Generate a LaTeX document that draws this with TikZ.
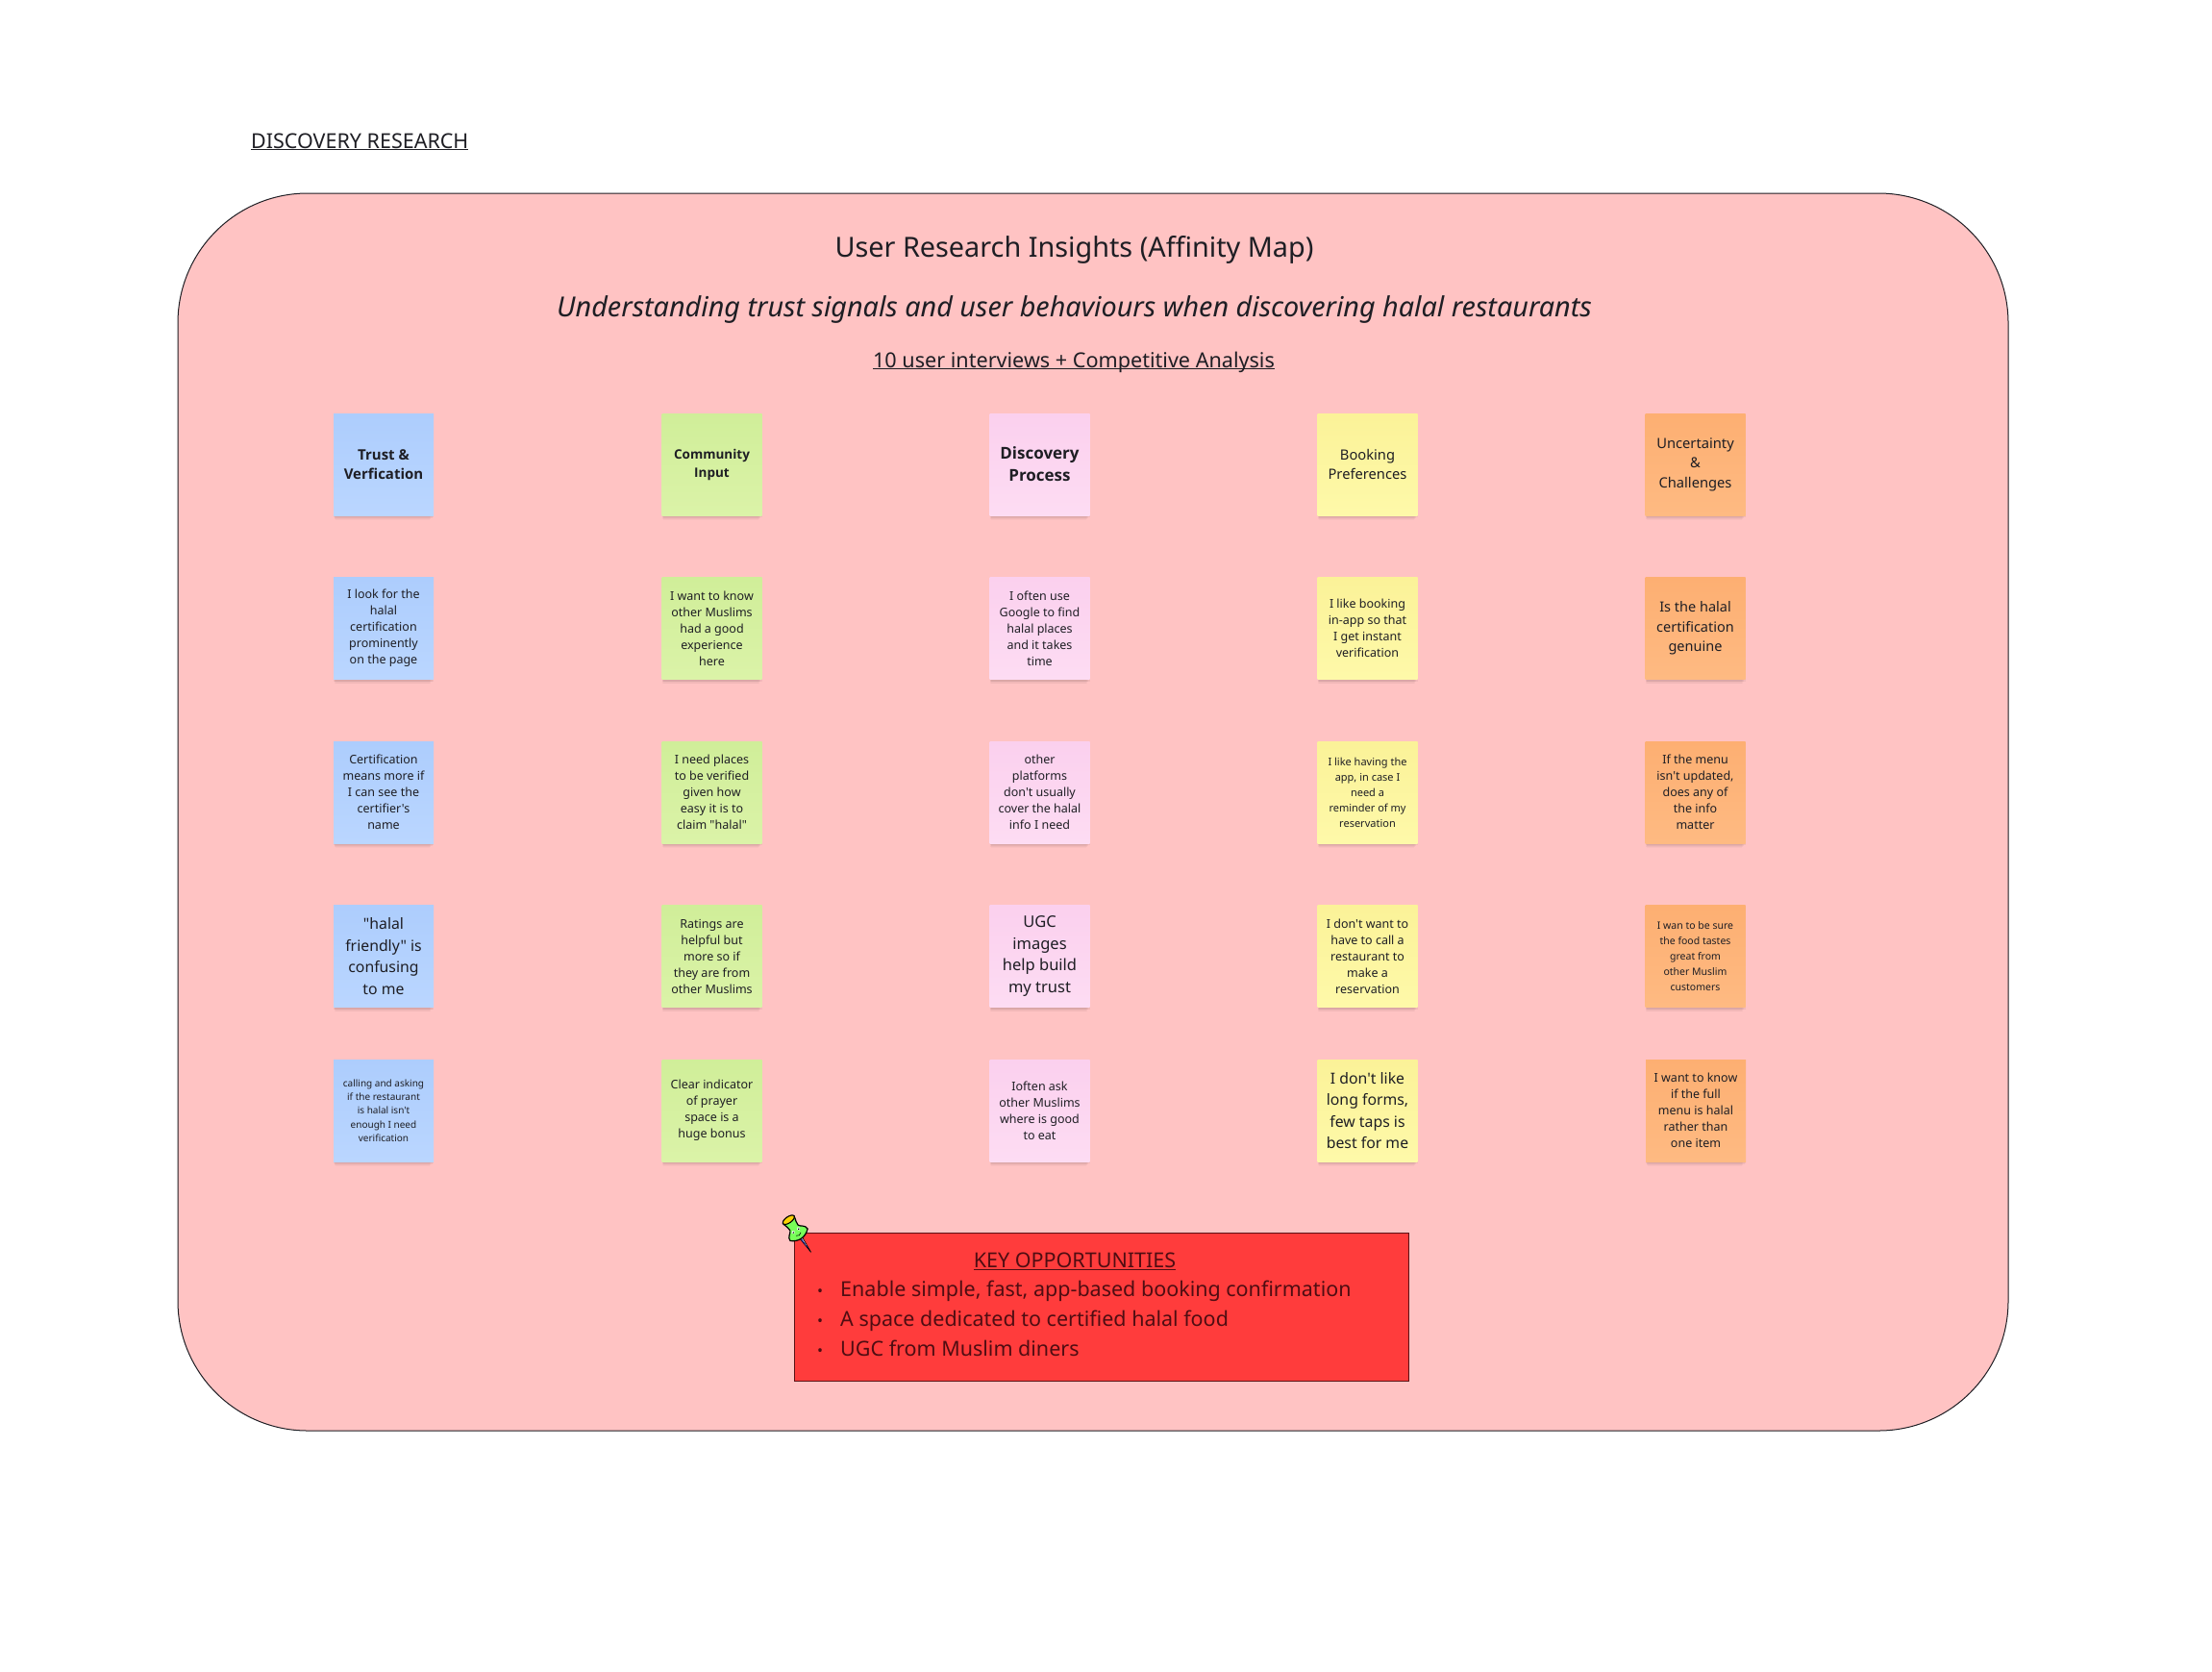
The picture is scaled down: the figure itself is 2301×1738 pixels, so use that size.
\documentclass[tikz,border=0pt]{standalone}
\usepackage{fontspec}
\setmainfont{Noto Sans}[Ligatures=TeXOff]
\newfontfamily\headfont{Open Sans}[Ligatures=TeXOff]
\usetikzlibrary{shadows}

\definecolor{inkcol}{HTML}{1E1E24}
\definecolor{boardcol}{HTML}{FFC3C3}
\definecolor{boxcol}{HTML}{FF3C3C}
\definecolor{noteB}{HTML}{BAD6FF}
\definecolor{noteBt}{HTML}{ADCDFD}
\definecolor{noteG}{HTML}{DBF3A8}
\definecolor{noteGt}{HTML}{D0EE99}
\definecolor{noteP}{HTML}{FDDCF3}
\definecolor{notePt}{HTML}{FBD0EE}
\definecolor{noteY}{HTML}{FEF9A9}
\definecolor{noteYt}{HTML}{FBF298}
\definecolor{noteO}{HTML}{FEBA82}
\definecolor{noteOt}{HTML}{FDAF72}
\definecolor{oppink}{HTML}{4F0D12}

\tikzset{
    note/.style={rectangle, minimum width=104pt, minimum height=106pt, inner sep=0pt,
        align=center, text=inkcol,
        general shadow={shadow xshift=-1pt, shadow yshift=-8pt, shadow scale=0.95, fill=black, opacity=0.025},
        general shadow={shadow xshift=-1pt, shadow yshift=-6pt, shadow scale=0.97, fill=black, opacity=0.03},
        general shadow={shadow xshift=0pt, shadow yshift=-4pt, shadow scale=0.98, fill=black, opacity=0.04},
        general shadow={shadow xshift=0pt, shadow yshift=-2pt, shadow scale=1, fill=black, opacity=0.05}},
    bluenote/.style={note, bottom color=noteB, top color=noteBt},
    greennote/.style={note, bottom color=noteG, top color=noteGt},
    pinknote/.style={note, bottom color=noteP, top color=notePt},
    yellownote/.style={note, bottom color=noteY, top color=noteYt},
    orangenote/.style={note, bottom color=noteO, top color=noteOt},
    body/.style={font=\fontsize{12.5}{17}\selectfont},
    head/.style={font=\fontsize{14.7}{20.5}\selectfont},
    large/.style={font=\fontsize{15.8}{22.5}\selectfont},
    title/.style={inner sep=0pt, text=inkcol},
    oppitem/.style={inner sep=0pt, anchor=base west, text=oppink, font=\fontsize{21.5}{26}\selectfont}
}

\begin{document}
\begin{tikzpicture}[x=1pt, y=-1pt]
    \useasboundingbox (0,0) rectangle (2301,1738);

    % board and headings
    \node[title, anchor=base west, font=\fontsize{21.5}{26}\selectfont] (page) at (261,154) {\underline{DISCOVERY RESEARCH}};
    \draw[fill=boardcol, draw=inkcol, line width=1pt, rounded corners=135pt] (185,201) rectangle (2089,1488);
    \node[title, font=\fontsize{28.8}{36}\selectfont] (maintitle) at (1117.5,260) {User Research Insights (Affinity Map)};
    \node[title, font=\fontsize{28.75}{36}\itshape\selectfont] (subtitle) at (1117.5,322) {Understanding trust signals and user behaviours when discovering halal restaurants};
    \node[title, font=\fontsize{21.6}{30}\selectfont] (method) at (1117,383) {\underline{\smash{10 user interviews + Competitive Analysis}}};

    % Trust
    \node[bluenote, font=\headfont\fontsize{15}{20}\bfseries\selectfont] (t0) at (399,483) {Trust \&\\Verfication};
    \node[bluenote, body] (t1) at (399,653.5) {I look for the\\halal\\certification\\prominently\\on the page};
    \node[bluenote, body] (t2) at (399,824) {Certification\\means more if\\I can see the\\certifier's\\name};
    \node[bluenote, large] (t3) at (399,994.5) {"halal\\friendly" is\\confusing\\to me};
    \node[bluenote, font=\fontsize{10}{14.3}\selectfont] (t4) at (399,1155) {calling and asking\\if the restaurant\\is halal isn't\\enough I need\\verification};

    % Community
    \node[greennote, font=\headfont\fontsize{13.5}{19}\bfseries\selectfont] (c0) at (740.5,483) {Community\\Input};
    \node[greennote, body] (c1) at (740.5,653.5) {I want to know\\other Muslims\\had a good\\experience\\here};
    \node[greennote, body] (c2) at (740.5,824) {I need places\\to be verified\\given how\\easy it is to\\claim "halal"};
    \node[greennote, body] (c3) at (740.5,994.5) {Ratings are\\helpful but\\more so if\\they are from\\other Muslims};
    \node[greennote, body] (c4) at (740.5,1155) {Clear indicator\\of prayer\\space is a\\huge bonus};

    % Discovery
    \node[pinknote, font=\headfont\fontsize{17}{23}\bfseries\selectfont] (d0) at (1081.5,483) {Discovery\\Process};
    \node[pinknote, body] (d1) at (1081.5,653.5) {I often use\\Google to find\\halal places\\and it takes\\time};
    \node[pinknote, body] (d2) at (1081.5,824) {other\\platforms\\don't usually\\cover the halal\\info I need};
    \node[pinknote, font=\fontsize{16.5}{22.5}\selectfont] (d3) at (1081.5,994.5) {UGC\\images\\help build\\my trust};
    \node[pinknote, body] (d4) at (1081.5,1155) {Ioften ask\\other Muslims\\where is good\\to eat};

    % Booking
    \node[yellownote, head] (b0) at (1422.5,483) {Booking\\Preferences};
    \node[yellownote, body] (b1) at (1422.5,653.5) {I like booking\\in-app so that\\I get instant\\verification};
    \node[yellownote, font=\fontsize{11}{16}\selectfont] (b2) at (1422.5,824) {I like having the\\app, in case I\\need a\\reminder of my\\reservation};
    \node[yellownote, body] (b3) at (1422.5,994.5) {I don't want to\\have to call a\\restaurant to\\make a\\reservation};
    \node[yellownote, large] (b4) at (1422.5,1155) {I don't like\\long forms,\\few taps is\\best for me};

    % Uncertainty
    \node[orangenote, head] (u0) at (1763.5,483) {Uncertainty\\\&\\Challenges};
    \node[orangenote, font=\fontsize{14.5}{20.5}\selectfont] (u1) at (1763.5,653.5) {Is the halal\\certification\\genuine};
    \node[orangenote, body] (u2) at (1763.5,824) {If the menu\\isn't updated,\\does any of\\the info\\matter};
    \node[orangenote, font=\fontsize{10.5}{16}\selectfont] (u3) at (1763.5,994.5) {I wan to be sure\\the food tastes\\great from\\other Muslim\\customers};
    \node[orangenote, body] (u4) at (1764,1155) {I want to know\\if the full\\menu is halal\\rather than\\one item};

    % key opportunities
    \draw[fill=boxcol, draw=oppink!80!boxcol!80!black, line width=1pt] (826,1282.5) rectangle (1465,1436.5);
    \node[inner sep=0pt, text=oppink, font=\fontsize{21.5}{26}\selectfont] (opptitle) at (1118,1312) {\underline{KEY OPPORTUNITIES}};
    \node[oppitem] (o1) at (850,1348) {{\fontsize{16}{13}\selectfont •}\hspace{18pt}Enable simple, fast, app-based booking confirmation};
    \node[oppitem] (o2) at (850,1379) {{\fontsize{16}{13}\selectfont •}\hspace{18pt}A space dedicated to certified halal food};
    \node[oppitem] (o3) at (850,1410) {{\fontsize{16}{13}\selectfont •}\hspace{18pt}UGC from Muslim diners};

    % pin
    \begin{scope}[shift={(820.3,1268.7)}, rotate=34.7]
        \draw[fill=white, draw=black, line width=0.7pt] (-1.6,21) -- (1.6,21) -- (0,41) -- cycle;
        \fill[blue!60!black] (-1,22) -- (0,22) -- (0,37) -- cycle;
        \draw[fill=green!75!lime!65!white, draw=black, line width=1.2pt] (-7,0) .. controls (-6,5) and (-4.5,7) .. (-5,10) .. controls (-6,13) and (-11.5,14) .. (-11,19) .. controls (-4,25) and (4,25) .. (11,19) .. controls (11.5,14) and (6,13) .. (5,10) .. controls (4.5,7) and (6,5) .. (7,0) -- cycle;
        \draw[fill=yellow!70!orange, draw=black, line width=1.1pt] (0,0) ellipse (7 and 3.2);
        \fill[white] (-3.4,13.5) circle (1.9) (3.2,13.5) circle (1.9);
        \fill[black] (-3.4,13.8) circle (0.9) (3.2,13.8) circle (0.9);
        \draw[black, line width=0.6pt] (-3,18) .. controls (-1,20) and (1,20) .. (3,18);
    \end{scope}
\end{tikzpicture}
\end{document}
